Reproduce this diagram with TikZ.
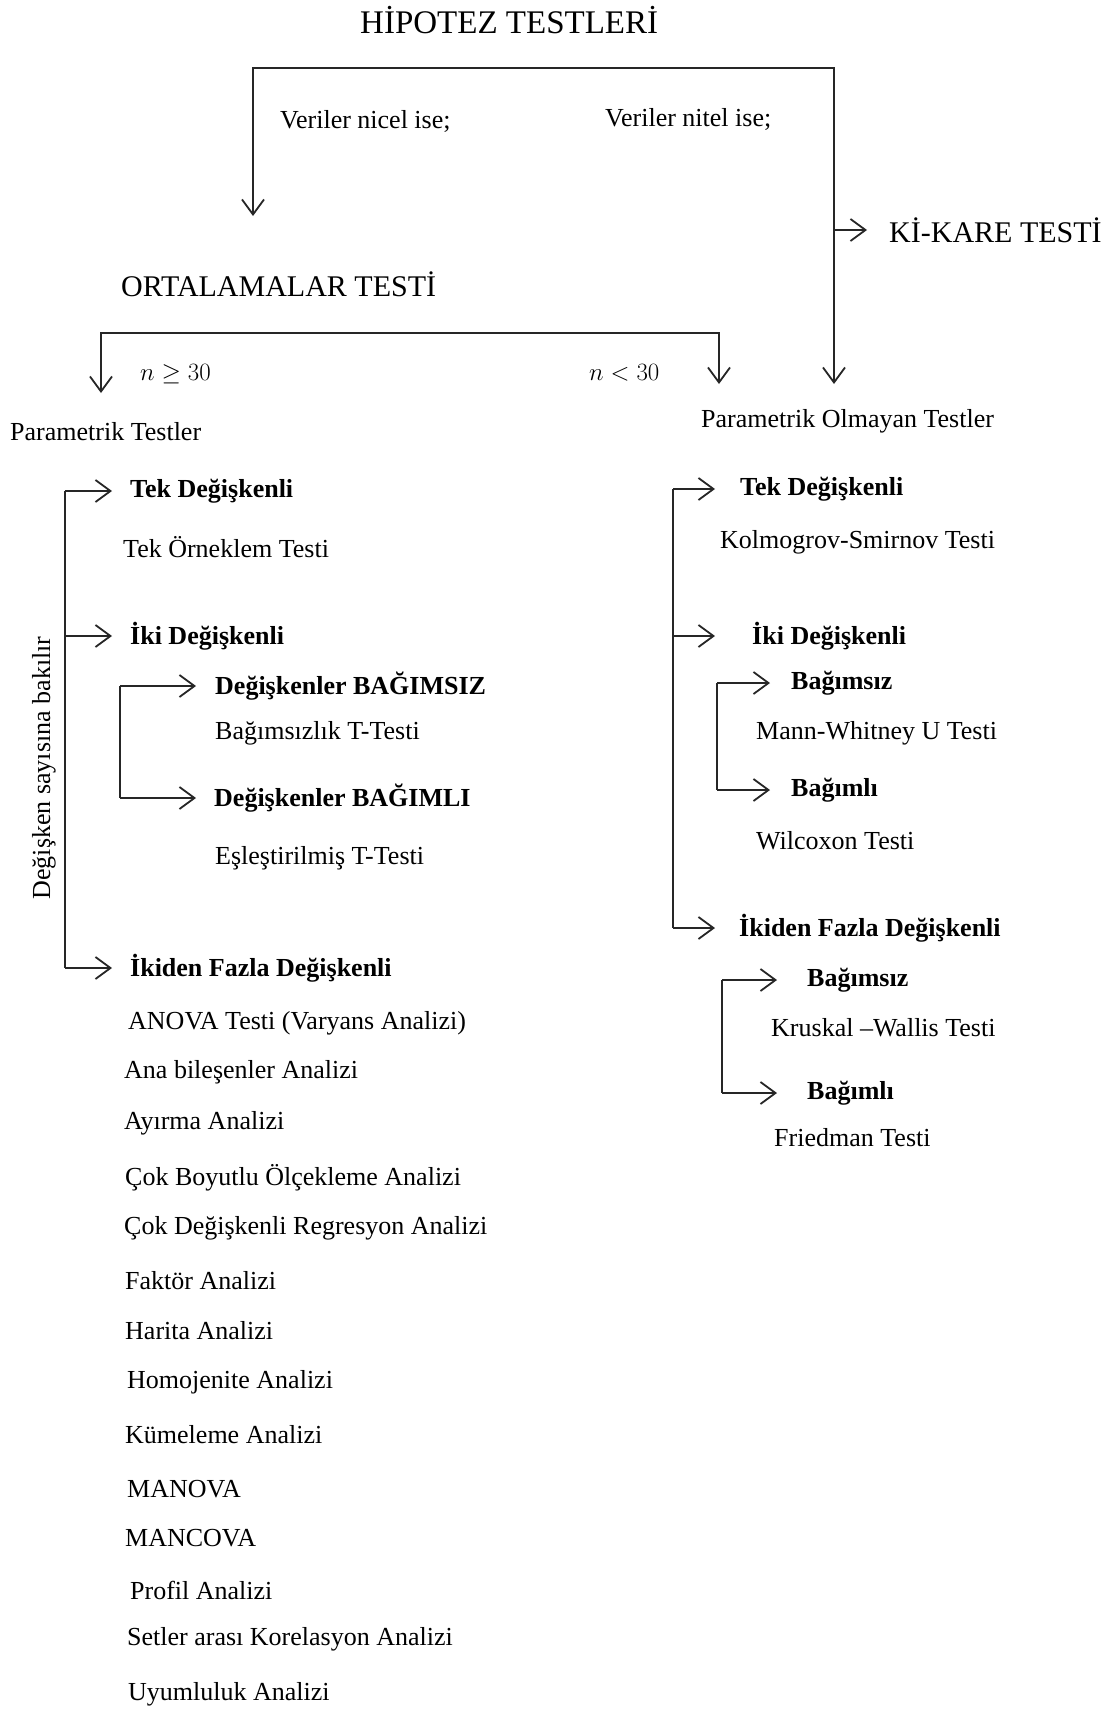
\documentclass[tikz,border=0pt]{standalone}
\usepackage{fontspec}
\setmainfont{Liberation Serif}
\usetikzlibrary{arrows.meta}
\begin{document}
\begin{tikzpicture}[x=1pt,y=-1pt,
  tip/.tip={Straight Barb[length=15pt,width=22pt,line width=1.8pt]},
  link/.style={line width=1.8pt, draw=black!85},
  arr/.style={link, -tip},
  arrb/.style={link, tip-tip},
  txt/.style={anchor=west, inner sep=0pt, font=\fontsize{26}{30}\selectfont},
  btxt/.style={anchor=west, inner sep=0pt, font=\fontsize{26}{30}\selectfont\bfseries},
  head/.style={anchor=west, inner sep=0pt, font=\fontsize{30}{34}\selectfont},
]
\fill[white] (0,0) rectangle (1115,1710);
\useasboundingbox (0,0) rectangle (1115,1710);

% headings
\node[anchor=west, inner sep=0pt, font=\fontsize{33}{38}\selectfont] (title) at (360,20) {HİPOTEZ TESTLERİ};
\node[txt] (nicel) at (280,121) {Veriler nicel ise;};
\node[txt] (nitel) at (605,119) {Veriler nitel ise;};
\node[head] (kikare) at (889,230) {Kİ-KARE TESTİ};
\node[head] (ort) at (121,284) {ORTALAMALAR TESTİ};
\node[txt] (nbig) at (140,374) {$n \geq 30$};
\node[txt] (nsmall) at (589,373) {$n < 30$};
\node[txt] (pt) at (10,432) {Parametrik Testler};
\node[txt] (pot) at (701,421) {Parametrik Olmayan Testler};

% top split
\coordinate (tl) at (253,68);
\coordinate (tr) at (834,68);
\coordinate (qtip) at (253,216);
\coordinate (ptip) at (834,384);
\draw[arrb] (qtip) -- (tl) -- (tr) -- (ptip);
\draw[arr] (tr |- kikare) -- ([xshift=-22pt]kikare.west);

% sample size split
\coordinate (ml) at (101,333);
\coordinate (mr) at (719,333);
\coordinate (mlt) at (101,393);
\coordinate (mrt) at (719,384);
\draw[arrb] (mlt) -- (ml) -- (mr) -- (mrt);

% parametric branch
\node[btxt] (ltek) at (130,491) {Tek Değişkenli};
\node[txt] (ltekx) at (123,547) {Tek Örneklem Testi};
\node[btxt] (liki) at (130,636) {İki Değişkenli};
\node[btxt] (lbsiz) at (215,686) {Değişkenler BAĞIMSIZ};
\node[txt] (lbsizx) at (215,733) {Bağımsızlık T-Testi};
\node[btxt] (lbli) at (214,798) {Değişkenler BAĞIMLI};
\node[txt] (lblix) at (215,858) {Eşleştirilmiş T-Testi};
\node[btxt] (lfazla) at (130,968) {İkiden Fazla Değişkenli};
\node[txt, rotate=90, anchor=center] (rot) at (44,768) {Değişken sayısına bakılır};

\coordinate (lsp) at (65,0);
\coordinate (ltip) at (112,0);
\draw[link] (lsp |- ltek) -- (lsp |- lfazla);
\foreach \n in {ltek,liki,lfazla} \draw[arr] (lsp |- \n) -- (ltip |- \n);
\coordinate (lssp) at (120,0);
\coordinate (lstip) at (196,0);
\draw[link] (lssp |- lbsiz) -- (lssp |- lbli);
\foreach \n in {lbsiz,lbli} \draw[arr] (lssp |- \n) -- (lstip |- \n);

% multivariate methods
\node[txt] (m1) at (128,1023) {ANOVA Testi (Varyans Analizi)};
\node[txt] (m2) at (124,1072) {Ana bileşenler Analizi};
\node[txt] (m3) at (124,1123) {Ayırma Analizi};
\node[txt] (m4) at (125,1178) {Çok Boyutlu Ölçekleme Analizi};
\node[txt] (m5) at (124,1228) {Çok Değişkenli Regresyon Analizi};
\node[txt] (m6) at (125,1281) {Faktör Analizi};
\node[txt] (m7) at (125,1331) {Harita Analizi};
\node[txt] (m8) at (127,1382) {Homojenite Analizi};
\node[txt] (m9) at (125,1435) {Kümeleme Analizi};
\node[txt] (m10) at (127,1489) {MANOVA};
\node[txt] (m11) at (125,1538) {MANCOVA};
\node[txt] (m12) at (130,1590) {Profil Analizi};
\node[txt] (m13) at (127,1639) {Setler arası Korelasyon Analizi};
\node[txt] (m14) at (128,1694) {Uyumluluk Analizi};

% non-parametric branch
\node[btxt] (rtek) at (740,489) {Tek Değişkenli};
\node[txt] (rtekx) at (720,542) {Kolmogrov-Smirnov Testi};
\node[btxt] (riki) at (752,636) {İki Değişkenli};
\node[btxt] (rbsiz1) at (791,683) {Bağımsız};
\node[txt] (rbsiz1x) at (756,733) {Mann-Whitney U Testi};
\node[btxt] (rbli1) at (791,790) {Bağımlı};
\node[txt] (rbli1x) at (756,841) {Wilcoxon Testi};
\node[btxt] (rfazla) at (739,928) {İkiden Fazla Değişkenli};
\node[btxt] (rbsiz2) at (807,980) {Bağımsız};
\node[txt] (rbsiz2x) at (771,1028) {Kruskal –Wallis Testi};
\node[btxt] (rbli2) at (807,1093) {Bağımlı};
\node[txt] (rbli2x) at (774,1138) {Friedman Testi};

\coordinate (rsp) at (673,0);
\coordinate (rtip) at (715,0);
\draw[link] (rsp |- rtek) -- (rsp |- rfazla);
\foreach \n in {rtek,riki,rfazla} \draw[arr] (rsp |- \n) -- (rtip |- \n);
\coordinate (rs1sp) at (717,0);
\coordinate (rs1tip) at (770,0);
\draw[link] (rs1sp |- rbsiz1) -- (rs1sp |- rbli1);
\foreach \n in {rbsiz1,rbli1} \draw[arr] (rs1sp |- \n) -- (rs1tip |- \n);
\coordinate (rs2sp) at (722,0);
\coordinate (rs2tip) at (777,0);
\draw[link] (rs2sp |- rbsiz2) -- (rs2sp |- rbli2);
\foreach \n in {rbsiz2,rbli2} \draw[arr] (rs2sp |- \n) -- (rs2tip |- \n);
\end{tikzpicture}
\end{document}
